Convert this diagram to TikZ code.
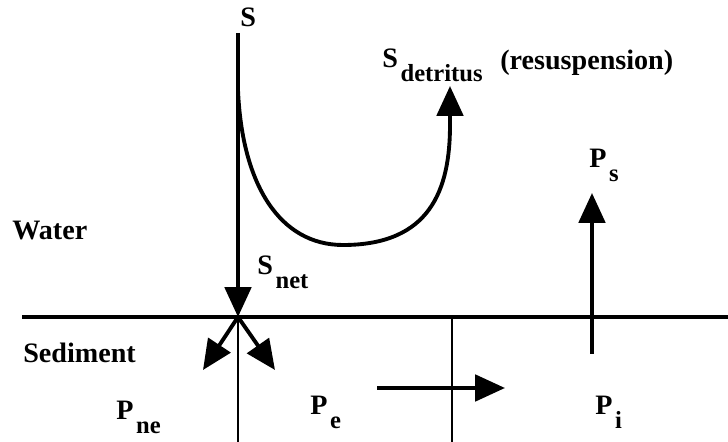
\documentclass[tikz,border=0pt]{standalone}
\usepackage{fontspec}
\setmainfont{Liberation Serif}
\usetikzlibrary{arrows.meta}
% symbol with a lowered subscript
\newcommand{\lbl}[2]{#1\hspace{1.5pt}\raisebox{-7.5pt}{\fontsize{14}{14}\selectfont #2}}

\begin{document}
\begin{tikzpicture}[x=0.02cm, y=-0.02cm,
    every node/.style={font=\fontsize{16}{18}\selectfont\bfseries, inner sep=0pt},
    flux/.style={line width=2.2pt, -{Triangle[length=17pt, width=15pt]}},
    divider/.style={line width=1.3pt}]
    \useasboundingbox (0,0) rectangle (728,442);

    % Points of the sketch
    \coordinate (top) at (238,33);
    \coordinate (J) at (238,317);
    \coordinate (west) at (22,317);
    \coordinate (east) at (728,317);
    \coordinate (foot1) at (238,442);
    \coordinate (cut) at (452,317);
    \coordinate (foot2) at (452,442);
    \coordinate (buryL) at (203,370);
    \coordinate (buryR) at (275,370);
    \coordinate (psfrom) at (592,354);
    \coordinate (psto) at (592,193);
    \coordinate (pefrom) at (377,388);
    \coordinate (peto) at (505,388);
    \coordinate (detfrom) at (238,90);
    \coordinate (detto) at (450,86);

    % Labels
    \node[anchor=base west] (S) at (240,27) {S};
    \node[anchor=base west] (Sdet) at (382,68) {\lbl{S}{detritus}};
    \node[anchor=base west] (resus) at (500,70) {(resuspension)};
    \node[anchor=base west] (Ps) at (589,168) {\lbl{P}{s}};
    \node[anchor=base west] (water) at (12,240) {Water};
    \node[anchor=base west] (sediment) at (23,363) {Sediment};
    \node[anchor=base west] (Snet) at (257,275) {\lbl{S}{net}};
    \node[anchor=base west] (Pne) at (116,420) {\lbl{P}{ne}};
    \node[anchor=base west] (Pe) at (310,415) {\lbl{P}{e}};
    \node[anchor=base west] (Pi) at (595,415) {\lbl{P}{i}};

    % Sediment surface and boxes
    \draw[line width=2.2pt] (west) -- (east);
    \draw[divider] (J) -- (foot1);
    \draw[divider] (cut) -- (foot2);

    % Fluxes
    \draw[flux] (top) -- (J);
    \draw[flux] (J) -- (buryL);
    \draw[flux] (J) -- (buryR);
    \draw[flux] (psfrom) -- (psto);
    \draw[flux] (pefrom) -- (peto);
    \draw[flux] (detfrom) .. controls (242,185) and (280,245) .. (343,245)
        .. controls (430,245) and (450,190) .. (450,125) -- (detto);
\end{tikzpicture}
\end{document}
